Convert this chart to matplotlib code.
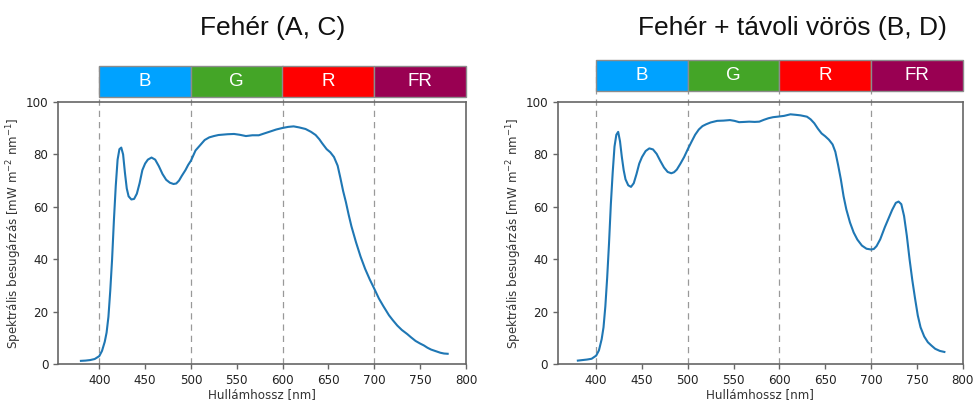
import matplotlib
matplotlib.use('Agg')
import matplotlib.pyplot as plt

# spektrum: Fehér (A, C)
wl_a = [380, 385, 390, 395, 400, 403, 406, 408, 410, 412, 414, 416, 418, 420, 422, 424, 426, 428,
        430, 432, 435, 438, 441, 444, 447, 450, 453, 457, 461, 465, 469, 473, 477, 481, 484, 487,
        490, 494, 497, 500, 505, 510, 515, 520, 525, 530, 540, 547, 553, 560, 567, 574, 580, 587,
        593, 600, 606, 612, 618, 625, 631, 636, 640, 643, 648, 652, 656, 660, 663, 666, 669, 672,
        675, 680, 685, 690, 695, 700, 705, 710, 716, 720, 725, 730, 736, 740, 745, 750, 754, 758,
        762, 767, 772, 776, 780]
val_a = [1.2, 1.3, 1.5, 1.9, 3.0, 5.0, 8.5, 12, 18, 28, 40, 55, 68, 78, 82, 82.6, 80, 73,
         67, 64, 62.8, 63, 65, 69, 74, 76.5, 78, 78.8, 78, 75.5, 72.5, 70.3, 69.2, 68.7, 68.9, 70,
         71.8, 74, 76, 77.6, 81.5, 83.5, 85.5, 86.5, 87, 87.4, 87.7, 87.8, 87.5, 87, 87.3, 87.3, 88, 88.8,
         89.5, 90.1, 90.5, 90.7, 90.3, 89.7, 88.6, 87.4, 85.8, 84.3, 82, 80.8, 79, 75.7, 71, 66, 61.8, 57,
         52.6, 46.5, 41, 36.3, 32.3, 28.7, 25, 22, 18.6, 16.8, 14.7, 13, 11.4, 10.2, 8.8, 7.8, 7.1, 6.2,
         5.5, 4.9, 4.3, 4.0, 3.9]

# spektrum: Fehér + távoli vörös (B, D)
wl_b = [380, 385, 390, 395, 400, 403, 406, 408, 410, 412, 414, 416, 418, 420, 422, 424, 426, 428,
        430, 432, 435, 438, 441, 444, 447, 450, 454, 458, 462, 466, 470, 474, 478, 482, 485, 488,
        492, 496, 500, 504, 508, 512, 516, 520, 525, 532, 539, 546, 551, 556, 562, 567, 573, 578,
        583, 588, 593, 598, 605, 612, 618, 623, 630, 634, 638, 642, 646, 650, 654, 658, 661, 664,
        667, 670, 673, 677, 681, 685, 690, 695, 700, 703, 706, 710, 715, 719, 723, 727, 730, 733,
        736, 739, 742, 745, 748, 751, 754, 758, 762, 766, 770, 775, 780]
val_b = [1.3, 1.5, 1.7, 2.0, 3.2, 5.2, 9.5, 14, 22, 33, 46, 61, 73, 83, 87.5, 88.6, 85, 79,
         74, 70.5, 68.2, 67.6, 69, 72.5, 76.5, 79, 81.3, 82.3, 81.9, 80.2, 77.5, 75, 73.3, 72.8, 73.2, 74.2,
         76.5, 79, 82, 84.8, 87.5, 89.5, 90.8, 91.5, 92.2, 92.8, 92.9, 93.1, 92.8, 92.3, 92.4, 92.5, 92.4, 92.5,
         93.2, 93.8, 94.2, 94.4, 94.7, 95.3, 95.1, 94.9, 94.4, 93.4, 91.9, 89.8, 88, 86.9, 85.6, 83.8, 81, 76,
         70.5, 64, 59, 54, 50.2, 47.5, 45.2, 44, 43.7, 43.9, 45, 47.6, 52.2, 55.5, 58.8, 61.5, 62, 61,
         56.5, 49, 40, 32, 25, 18.5, 14, 10.5, 8.3, 7, 5.8, 5, 4.6]

# sávok
band_start = [400, 500, 600, 700]
band_names = ['B', 'G', 'R', 'FR']
band_colors = ['#00A2FF', '#44A527', '#FF0000', '#990052']
band_lines = [400, 500, 600, 700]

titles = ['Fehér (A, C)', 'Fehér + távoli vörös (B, D)']

fig = plt.figure(figsize=(9.75, 4.01), dpi=100)

panels = [
    # main axes rect, xlim left, band axes rect, dashed line top, title x
    ([58 / 975, 1 - 364 / 401, 408 / 975, 262 / 401], 355, [99 / 975, 1 - 97 / 401, 367 / 975, 31 / 401], 1.137, 273 / 975),
    ([557.7 / 975, 1 - 364 / 401, 405 / 975, 262 / 401], 358, [596 / 975, 1 - 91 / 401, 366.7 / 975, 31 / 401], 1.16, 792 / 975),
]
data = [(wl_a, val_a), (wl_b, val_b)]

for (rect, xleft, brect, vtop, tx), (wl, val), title in zip(panels, data, titles):
    ax = fig.add_axes(rect)
    ax.plot(wl, val, color='#1f77b4', lw=1.5, zorder=3)
    ax.set_xlim(xleft, 800)
    ax.set_ylim(0, 100)
    ax.set_xticks([400, 450, 500, 550, 600, 650, 700, 750, 800])
    ax.set_yticks([0, 20, 40, 60, 80, 100])
    for x in band_lines:
        ax.axvline(x, ymin=0, ymax=vtop, color='0.6', ls=(0, (5, 4)), lw=0.9, clip_on=False, zorder=1)
    for s in ax.spines.values():
        s.set_color('0.4')
        s.set_linewidth(1.2)
    ax.tick_params(color='0.4', labelsize=8.6, labelcolor='#222222', length=3.5, width=1)
    ax.set_xlabel('Hullámhossz [nm]', fontsize=8.6, color='#333333', labelpad=1)
    ax.set_ylabel('Spektrális besugárzás [mW m$^{-2}$ nm$^{-1}$]', fontsize=8.6, color='#333333', labelpad=1)

    bx = fig.add_axes(brect)
    bars = bx.bar(band_start, [1] * 4, width=100, align='edge', color=band_colors,
                  edgecolor='0.55', linewidth=1)
    for b in bars:
        b.set_clip_on(False)
    for x0, name in zip(band_start, band_names):
        bx.text(x0 + 50, 0.5, name, ha='center', va='center', color='white',
                fontsize=13.5, family='Liberation Sans')
    bx.set_xlim(400, 800)
    bx.set_ylim(0, 1)
    bx.axis('off')

    fig.text(tx, 1 - 28 / 401, title, ha='center', va='center', fontsize=19,
             family='Liberation Sans', color='#111111')

fig.savefig('out.png', dpi=100)
